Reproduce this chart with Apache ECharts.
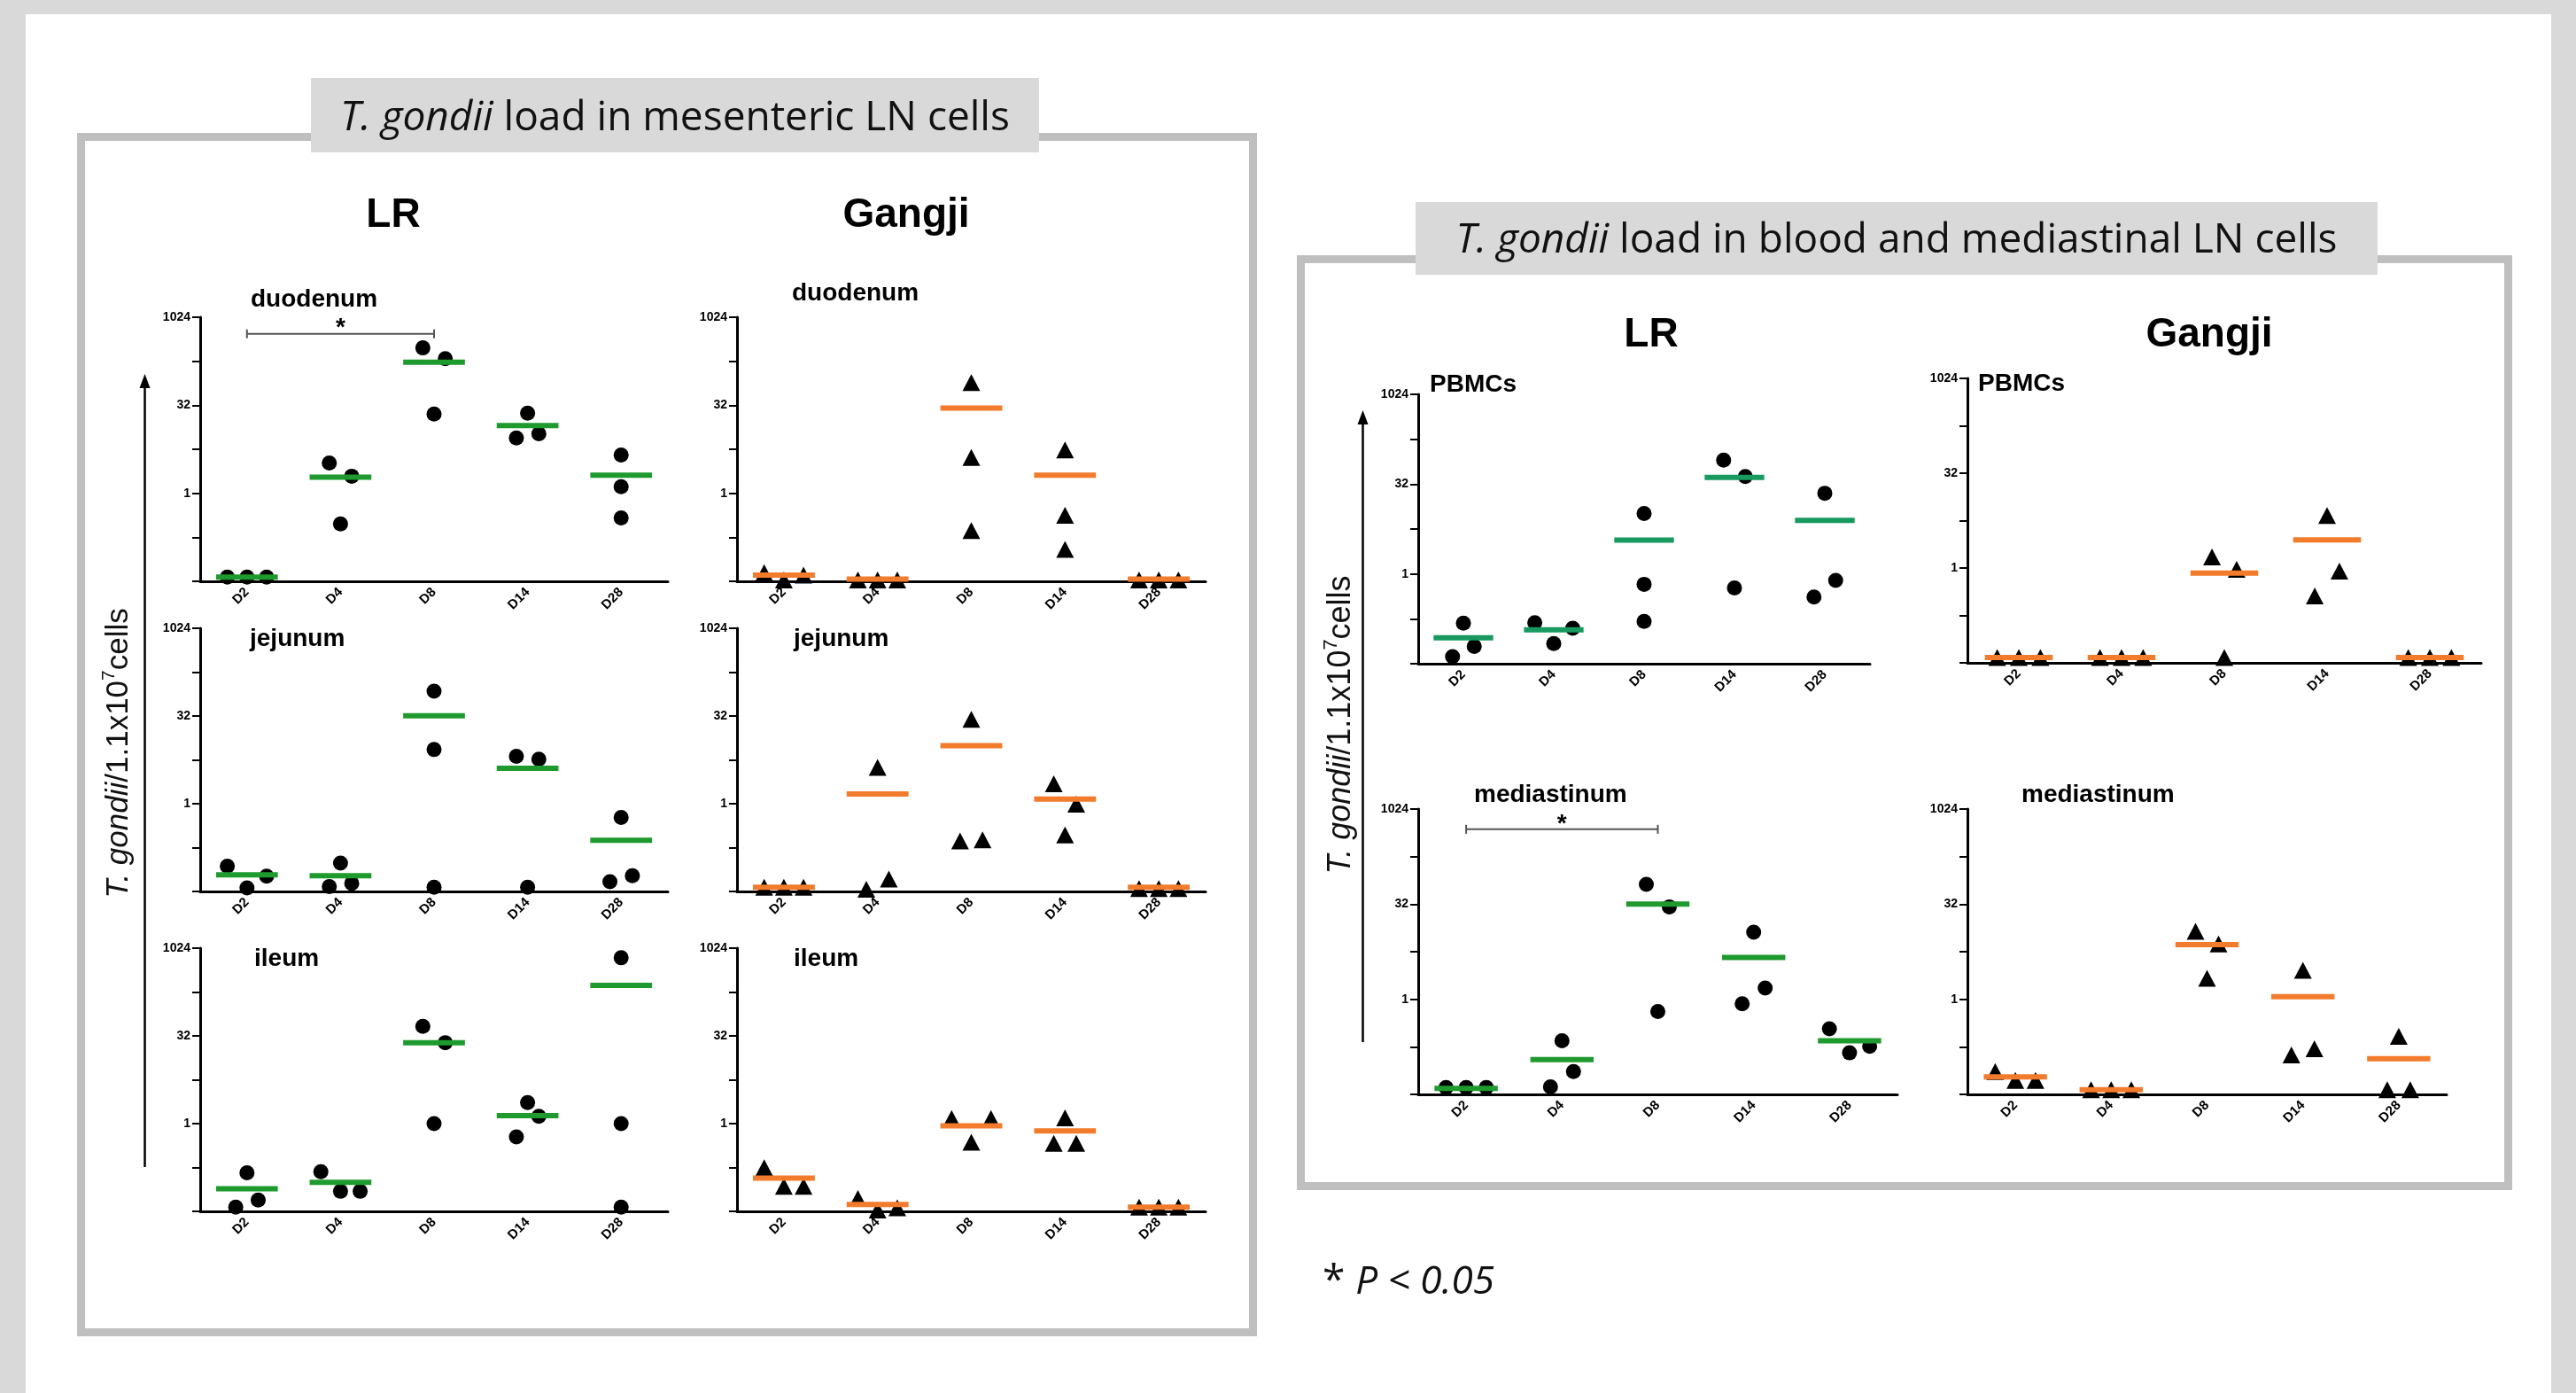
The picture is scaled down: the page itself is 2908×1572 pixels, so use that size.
<!DOCTYPE html>
<html><head><meta charset="utf-8">
<script src="https://cdn.jsdelivr.net/npm/echarts@6/dist/echarts.min.js"></script>
<style>html,body{margin:0;padding:0;background:#d9d9d9}#c{width:2908px;height:1572px}</style>
</head><body><div id="c"></div>
<script>
// ---------- DATA ----------
const categories = ['D2', 'D4', 'D8', 'D14', 'D28'];
const yTickValues = [1, 32, 1024];
const yAxisMin = 1 / 32, yAxisMax = 1024;

// replicate values placed left / centre / right within each day; jitter code 0 none, 1 narrow, 2 wide
const mesLRduoL = [0.037, 3.3, 306, 8.8, 4.5];
const mesLRduoC = [0.037, 0.30, 22.7, 23.4, 1.3];
const mesLRduoR = [0.037, 1.96, 200, 10.4, 0.38];
const mesLRduoMean = [0.037, 1.88, 175, 14.4, 2.04];
const mesLRduoJit = [2, 1, 1, 1, 0];

const mesGduoL = [0.044, 0.033, 78, 5.5, 0.033];
const mesGduoC = [0.033, 0.033, 4.1, 0.42, 0.033];
const mesGduoR = [0.040, 0.033, 0.23, 0.11, 0.033];
const mesGduoMean = [0.04, 0.034, 28.6, 2.04, 0.034];
const mesGduoJit = [2, 2, 0, 0, 2];

const mesLRjejL = [0.085, 0.038, 85, 6.5, 0.046];
const mesLRjejC = [0.036, 0.096, 8.5, 0.037, 0.58];
const mesLRjejR = [0.057, 0.043, 0.037, 5.8, 0.058];
const mesLRjejMean = [0.060, 0.058, 32.4, 4.07, 0.235];
const mesLRjejJit = [2, 1, 0, 1, 1];

const mesGjejL = [0.037, 0.034, 0.23, 2.2, 0.035];
const mesGjejC = [0.037, 4.2, 28, 0.29, 0.035];
const mesGjejR = [0.037, 0.051, 0.24, 0.98, 0.035];
const mesGjejMean = [0.037, 1.47, 9.9, 1.2, 0.037];
const mesGjejJit = [2, 1, 1, 1, 2];

const mesLRileL = [0.037, 0.15, 46.5, 0.59, 700];
const mesLRileC = [0.143, 0.069, 1.0, 2.3, 1.0];
const mesLRileR = [0.049, 0.069, 24.5, 1.34, 0.037];
const mesLRileMean = [0.076, 0.098, 24.5, 1.37, 236];
const mesLRileJit = [1, 2, 1, 1, 0];

const mesGileL = [0.175, 0.052, 1.22, 0.46, 0.037];
const mesGileC = [0.084, 0.033, 0.48, 1.26, 0.037];
const mesGileR = [0.084, 0.036, 1.22, 0.46, 0.037];
const mesGileMean = [0.116, 0.041, 0.92, 0.75, 0.037];
const mesGileJit = [2, 2, 2, 1, 2];

const pbmcLRL = [0.041, 0.152, 10.3, 81, 0.41];
const pbmcLRC = [0.15, 0.068, 0.67, 0.58, 22.5];
const pbmcLRR = [0.061, 0.123, 0.16, 43, 0.78];
const pbmcLRMean = [0.085, 0.116, 3.7, 41.6, 7.9];
const pbmcLRJit = [1, 2, 0, 1, 1];

const pbmcGL = [0.038, 0.038, 1.5, 0.36, 0.038];
const pbmcGC = [0.038, 0.038, 0.038, 6.8, 0.038];
const pbmcGR = [0.038, 0.038, 0.95, 0.89, 0.038];
const pbmcGMean = [0.038, 0.038, 0.83, 2.8, 0.038];
const pbmcGJit = [2, 2, 1, 1, 2];

const medLRL = [0.04, 0.041, 66, 0.85, 0.34];
const medLRC = [0.04, 0.22, 0.64, 11.5, 0.142];
const medLRR = [0.04, 0.072, 29, 1.5, 0.18];
const medLRMean = [0.039, 0.111, 32, 4.6, 0.22];
const medLRJit = [2, 1, 1, 1, 2];

const medGL = [0.072, 0.037, 11.9, 0.131, 0.037];
const medGC = [0.052, 0.037, 2.14, 2.87, 0.26];
const medGR = [0.052, 0.037, 7.5, 0.165, 0.037];
const medGMean = [0.059, 0.037, 7.3, 1.1, 0.115];
const medGJit = [2, 2, 1, 1, 1];

// significance brackets: [from day, to day, height]
const sigDuodenumLR = ['D2', 'D8', 533];
const sigMediastinumLR = ['D2', 'D8', 490];

// ---------- LAYOUT ----------
const GREEN = '#1f9a2e', TEAL = '#17995f', ORANGE = '#f27b2c';
const jitterFrac = [0, 0.12, 0.21];
const panels = [
  {name:'duodenum', lx:283, ly:338, left:226, top:358, width:528, height:298, L:mesLRduoL, C:mesLRduoC, R:mesLRduoR, mean:mesLRduoMean, jit:mesLRduoJit, shape:'circle', color:GREEN, sig:sigDuodenumLR},
  {name:'duodenum', lx:894, ly:331, left:832, top:358, width:529, height:298, L:mesGduoL, C:mesGduoC, R:mesGduoR, mean:mesGduoMean, jit:mesGduoJit, shape:'triangle', color:ORANGE},
  {name:'jejunum', lx:282, ly:721, left:226, top:709, width:528, height:297, L:mesLRjejL, C:mesLRjejC, R:mesLRjejR, mean:mesLRjejMean, jit:mesLRjejJit, shape:'circle', color:GREEN},
  {name:'jejunum', lx:896, ly:721, left:832, top:709, width:529, height:297, L:mesGjejL, C:mesGjejC, R:mesGjejR, mean:mesGjejMean, jit:mesGjejJit, shape:'triangle', color:ORANGE},
  {name:'ileum', lx:287, ly:1082, left:226, top:1070, width:528, height:297, L:mesLRileL, C:mesLRileC, R:mesLRileR, mean:mesLRileMean, jit:mesLRileJit, shape:'circle', color:GREEN},
  {name:'ileum', lx:896, ly:1082, left:832, top:1070, width:529, height:297, L:mesGileL, C:mesGileC, R:mesGileR, mean:mesGileMean, jit:mesGileJit, shape:'triangle', color:ORANGE},
  {name:'PBMCs', lx:1614, ly:434, left:1601, top:445, width:510, height:304, L:pbmcLRL, C:pbmcLRC, R:pbmcLRR, mean:pbmcLRMean, jit:pbmcLRJit, shape:'circle', color:TEAL},
  {name:'PBMCs', lx:2233, ly:433, left:2221, top:427, width:580, height:321, L:pbmcGL, C:pbmcGC, R:pbmcGR, mean:pbmcGMean, jit:pbmcGJit, shape:'triangle', color:ORANGE},
  {name:'mediastinum', lx:1664, ly:897, left:1601, top:913, width:541, height:322, L:medLRL, C:medLRC, R:medLRR, mean:medLRMean, jit:medLRJit, shape:'circle', color:GREEN, sig:sigMediastinumLR},
  {name:'mediastinum', lx:2282, ly:897, left:2221, top:913, width:541, height:322, L:medGL, C:medGC, R:medGR, mean:medGMean, jit:medGJit, shape:'triangle', color:ORANGE}
];

const FONT = 'Liberation Sans, Arial, sans-serif';
const yLabel = v => { const t = yTickValues.find(t => Math.abs(Math.log2(t) - v) < 1e-6); return t === undefined ? '' : String(t); };

const grid = [], xAxis = [], yAxis = [], series = [];
panels.forEach((p, i) => {
  grid.push({left: p.left, top: p.top, width: p.width, height: p.height});
  xAxis.push({type: 'category', gridIndex: i, data: categories, boundaryGap: true,
    axisLine: {onZero: false, lineStyle: {color: '#000', width: 3}},
    axisTick: {alignWithLabel: true, length: 9, lineStyle: {color: '#000', width: 2}},
    axisLabel: {rotate: 45, fontSize: 15, fontWeight: 'bold', color: '#000', margin: 10, fontFamily: FONT},
    splitLine: {show: false}});
  yAxis.push({type: 'value', gridIndex: i, min: Math.log2(yAxisMin), max: Math.log2(yAxisMax), interval: 2.5,
    axisLine: {show: true, onZero: false, lineStyle: {color: '#000', width: 3}},
    axisTick: {show: true, length: 9, lineStyle: {color: '#000', width: 2}},
    axisLabel: {formatter: yLabel, fontSize: 14, fontWeight: 'bold', color: '#000', margin: 11, fontFamily: FONT},
    splitLine: {show: false}});
  const sp = p.width / categories.length;
  const sym = p.shape;
  const size = p.shape === 'circle' ? 17 : [20, 19];
  [p.L, p.C, p.R].forEach((arr, k) => {
    series.push({type: 'scatter', xAxisIndex: i, yAxisIndex: i, symbol: sym, symbolSize: size, clip: false, silent: true,
      itemStyle: {color: '#000', opacity: 1}, z: 2,
      data: arr.map((v, j) => ({value: [j, Math.log2(v)], symbolOffset: [(k - 1) * jitterFrac[p.jit[j]] * sp, 0]}))});
  });
  series.push({type: 'scatter', xAxisIndex: i, yAxisIndex: i, symbol: 'rect', symbolSize: [0.66 * sp, 6], clip: false, silent: true,
    itemStyle: {color: p.color, opacity: 1}, z: 3, data: p.mean.map((v, j) => [j, Math.log2(v)])});
  if (p.sig) {
    series.push({type: 'custom', xAxisIndex: i, yAxisIndex: i, silent: true, z: 4,
      encode: {x: [0, 1], y: 2},
      data: [[categories.indexOf(p.sig[0]), categories.indexOf(p.sig[1]), Math.log2(p.sig[2])]],
      renderItem: (params, api) => {
        const a = api.coord([api.value(0), api.value(2)]);
        const b = api.coord([api.value(1), api.value(2)]);
        const st = {stroke: '#555', lineWidth: 2};
        return {type: 'group', children: [
          {type: 'line', shape: {x1: a[0], y1: a[1], x2: b[0], y2: b[1]}, style: st},
          {type: 'line', shape: {x1: a[0], y1: a[1] - 5, x2: a[0], y2: a[1] + 5}, style: st},
          {type: 'line', shape: {x1: b[0], y1: b[1] - 5, x2: b[0], y2: b[1] + 5}, style: st},
          {type: 'text', style: {text: '*', x: (a[0] + b[0]) / 2, y: a[1] + 8, fontSize: 28, fontWeight: 'bold', fill: '#000', align: 'center', verticalAlign: 'bottom', fontFamily: FONT}}
        ]};
      }});
  }
});

// ---------- DECORATION ----------
const g = [];
g.push({type: 'rect', shape: {x: 29, y: 16, width: 2851, height: 1560}, style: {fill: '#fff'}, z: -10});
g.push({type: 'rect', shape: {x: 91.5, y: 154.5, width: 1323, height: 1349}, style: {fill: 'none', stroke: '#bfbfbf', lineWidth: 9}, z: -9});
g.push({type: 'rect', shape: {x: 1468.5, y: 292.5, width: 1363, height: 1046}, style: {fill: 'none', stroke: '#bfbfbf', lineWidth: 9}, z: -9});
g.push({type: 'rect', shape: {x: 351, y: 88, width: 822, height: 84}, style: {fill: '#d9d9d9'}, z: -8});
g.push({type: 'rect', shape: {x: 1598, y: 228, width: 1086, height: 82}, style: {fill: '#d9d9d9'}, z: -8});
const titleRich = {i: {fontStyle: 'italic', fontSize: 46, fontFamily: 'Open Sans', fill: '#111'}, n: {fontSize: 46, fontFamily: 'Open Sans', fill: '#111'}};
g.push({type: 'text', x: 762, y: 134, style: {text: '{i|T. gondii}{n| load in mesenteric LN cells}', rich: titleRich, align: 'center', verticalAlign: 'middle'}});
g.push({type: 'text', x: 2141, y: 272, style: {text: '{i|T. gondii}{n| load in blood and mediastinal LN cells}', rich: titleRich, align: 'center', verticalAlign: 'middle'}});
[['LR', 444, 243], ['Gangji', 1023, 243], ['LR', 1864, 378], ['Gangji', 2494, 378]].forEach(h =>
  g.push({type: 'text', x: h[1], y: h[2], style: {text: h[0], fontSize: 46, fontWeight: 'bold', fontFamily: FONT, fill: '#000', align: 'center', verticalAlign: 'middle'}}));
panels.forEach(p => g.push({type: 'text', x: p.lx, y: p.ly, style: {text: p.name, fontSize: 28, fontWeight: 'bold', fontFamily: FONT, fill: '#000', align: 'left', verticalAlign: 'middle'}}));
function yTitle(x, y, fs) {
  return {type: 'text', x: x, y: y, rotation: Math.PI / 2, style: {
    text: '{i|T. gondii}{n|/1.1x10}{s|7}{n|cells}', align: 'center', verticalAlign: 'middle',
    rich: {i: {fontStyle: 'italic', fontSize: fs, fontFamily: FONT, fill: '#111', lineHeight: fs * 1.2},
           n: {fontSize: fs, fontFamily: FONT, fill: '#111', lineHeight: fs * 1.2},
           s: {fontSize: fs * 0.6, fontFamily: FONT, fill: '#111', verticalAlign: 'top', lineHeight: fs * 1.2}}}};
}
g.push(yTitle(134, 850, 35));
g.push(yTitle(1514, 818, 36));
function arrow(x, yTop, yBot) {
  g.push({type: 'line', shape: {x1: x, y1: yBot, x2: x, y2: yTop + 12}, style: {stroke: '#000', lineWidth: 2.5}});
  g.push({type: 'polygon', shape: {points: [[x, yTop], [x - 6, yTop + 16], [x + 6, yTop + 16]]}, style: {fill: '#000'}});
}
arrow(163.5, 422, 1317);
arrow(1538.5, 463, 1176);
g.push({type: 'text', x: 1493, y: 1447, style: {text: '{a|* }{b|P < 0.05}', verticalAlign: 'middle', align: 'left',
  rich: {a: {fontSize: 46, fontFamily: 'Open Sans', fill: '#111'}, b: {fontSize: 44, fontStyle: 'italic', fontFamily: 'Open Sans', fill: '#111'}}}});

const chart = echarts.init(document.getElementById('c'));
chart.setOption({backgroundColor: '#d9d9d9', animation: false, grid, xAxis, yAxis, series, graphic: {elements: g}});
</script></body></html>
